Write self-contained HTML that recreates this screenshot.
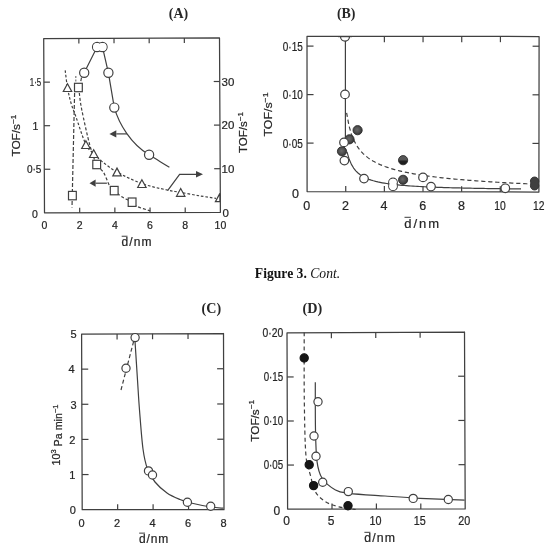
<!DOCTYPE html>
<html><head><meta charset="utf-8"><title>Figure 3 Cont.</title>
<style>
html,body{margin:0;padding:0;background:#fff;}
body{width:550px;height:550px;overflow:hidden;font-family:"Liberation Sans",sans-serif;}
svg{display:block;filter:blur(0.3px);}
</style></head><body>
<svg width="550" height="550" viewBox="0 0 550 550">
<defs>
<radialGradient id="gf" cx="0.45" cy="0.45" r="0.55"><stop offset="0" stop-color="#6a6a6a"/><stop offset="0.6" stop-color="#4e4e4e"/><stop offset="1" stop-color="#333"/></radialGradient>
<linearGradient id="gh" x1="0" y1="0" x2="0" y2="1"><stop offset="0" stop-color="#5a5a5a"/><stop offset="0.45" stop-color="#555"/><stop offset="0.6" stop-color="#222"/><stop offset="1" stop-color="#1a1a1a"/></linearGradient>
</defs>
<rect width="550" height="550" fill="#fff"/>
<text x="178.5" y="17.6" font-family="Liberation Serif" font-size="13.6" font-weight="bold" font-style="normal" text-anchor="middle" fill="#262626" textLength="19.4" lengthAdjust="spacingAndGlyphs">(A)</text>
<text x="346.2" y="17.6" font-family="Liberation Serif" font-size="13.6" font-weight="bold" font-style="normal" text-anchor="middle" fill="#262626" textLength="18.6" lengthAdjust="spacingAndGlyphs">(B)</text>
<text x="211.3" y="312.9" font-family="Liberation Serif" font-size="13.6" font-weight="bold" font-style="normal" text-anchor="middle" fill="#262626" textLength="19.6" lengthAdjust="spacingAndGlyphs">(C)</text>
<text x="312.4" y="312.9" font-family="Liberation Serif" font-size="13.6" font-weight="bold" font-style="normal" text-anchor="middle" fill="#262626" textLength="19.7" lengthAdjust="spacingAndGlyphs">(D)</text>
<text x="254.8" y="278.1" font-family="Liberation Serif" font-size="13.6" fill="#111" textLength="85.4" lengthAdjust="spacingAndGlyphs"><tspan font-weight="bold">Figure 3.</tspan> <tspan font-style="italic">Cont.</tspan></text>
<polygon points="43.7,38.6 219.5,37.9 220.4,212.3 44.5,212.8" fill="none" stroke="#404040" stroke-width="1.25" stroke-linejoin="round"/>
<line x1="79.68" y1="212.7" x2="79.68" y2="207.7" stroke="#404040" stroke-width="1.2"/>
<line x1="78.86" y1="38.46" x2="78.86" y2="43.46" stroke="#404040" stroke-width="1.2"/>
<line x1="114.86" y1="212.6" x2="114.86" y2="207.6" stroke="#404040" stroke-width="1.2"/>
<line x1="114.02" y1="38.32" x2="114.02" y2="43.32" stroke="#404040" stroke-width="1.2"/>
<line x1="150.04" y1="212.5" x2="150.04" y2="207.5" stroke="#404040" stroke-width="1.2"/>
<line x1="149.18" y1="38.18" x2="149.18" y2="43.18" stroke="#404040" stroke-width="1.2"/>
<line x1="185.22" y1="212.4" x2="185.22" y2="207.4" stroke="#404040" stroke-width="1.2"/>
<line x1="184.34" y1="38.04" x2="184.34" y2="43.04" stroke="#404040" stroke-width="1.2"/>
<line x1="44.3" y1="169.25" x2="50.3" y2="169.25" stroke="#404040" stroke-width="1.2"/>
<line x1="44.1" y1="125.7" x2="50.1" y2="125.7" stroke="#404040" stroke-width="1.2"/>
<line x1="43.9" y1="82.15" x2="49.9" y2="82.15" stroke="#404040" stroke-width="1.2"/>
<line x1="220.18" y1="168.7" x2="214.18" y2="168.7" stroke="#404040" stroke-width="1.2"/>
<line x1="219.95" y1="125.1" x2="213.95" y2="125.1" stroke="#404040" stroke-width="1.2"/>
<line x1="219.72" y1="81.5" x2="213.72" y2="81.5" stroke="#404040" stroke-width="1.2"/>
<text x="44.5" y="229" font-family="Liberation Sans" font-size="10.5" font-weight="normal" font-style="normal" text-anchor="middle" fill="#262626" stroke="#262626" stroke-width="0.22">0</text>
<text x="79.68" y="228.9" font-family="Liberation Sans" font-size="10.5" font-weight="normal" font-style="normal" text-anchor="middle" fill="#262626" stroke="#262626" stroke-width="0.22">2</text>
<text x="114.86" y="228.8" font-family="Liberation Sans" font-size="10.5" font-weight="normal" font-style="normal" text-anchor="middle" fill="#262626" stroke="#262626" stroke-width="0.22">4</text>
<text x="150.04" y="228.7" font-family="Liberation Sans" font-size="10.5" font-weight="normal" font-style="normal" text-anchor="middle" fill="#262626" stroke="#262626" stroke-width="0.22">6</text>
<text x="185.22" y="228.6" font-family="Liberation Sans" font-size="10.5" font-weight="normal" font-style="normal" text-anchor="middle" fill="#262626" stroke="#262626" stroke-width="0.22">8</text>
<text x="220.4" y="228.5" font-family="Liberation Sans" font-size="10.5" font-weight="normal" font-style="normal" text-anchor="middle" fill="#262626" stroke="#262626" stroke-width="0.22">10</text>
<text x="35" y="217.7" font-family="Liberation Sans" font-size="10.5" font-weight="normal" font-style="normal" text-anchor="middle" fill="#262626" stroke="#262626" stroke-width="0.22">0</text>
<text x="41.5" y="173.05" font-family="Liberation Sans" font-size="10.5" font-weight="normal" font-style="normal" text-anchor="end" fill="#262626" stroke="#262626" stroke-width="0.22" textLength="14.6" lengthAdjust="spacingAndGlyphs">0·5</text>
<text x="38.3" y="129.5" font-family="Liberation Sans" font-size="10.5" font-weight="normal" font-style="normal" text-anchor="end" fill="#262626" stroke="#262626" stroke-width="0.22">1</text>
<text x="41.3" y="85.95" font-family="Liberation Sans" font-size="10.5" font-weight="normal" font-style="normal" text-anchor="end" fill="#262626" stroke="#262626" stroke-width="0.22" textLength="11.5" lengthAdjust="spacingAndGlyphs">1·5</text>
<text x="225.6" y="216.6" font-family="Liberation Sans" font-size="11.5" font-weight="normal" font-style="normal" text-anchor="middle" fill="#262626" stroke="#262626" stroke-width="0.22">0</text>
<text x="221.6" y="172.8" font-family="Liberation Sans" font-size="11.5" font-weight="normal" font-style="normal" text-anchor="start" fill="#262626" stroke="#262626" stroke-width="0.22" textLength="12.8" lengthAdjust="spacingAndGlyphs">10</text>
<text x="221.6" y="129.2" font-family="Liberation Sans" font-size="11.5" font-weight="normal" font-style="normal" text-anchor="start" fill="#262626" stroke="#262626" stroke-width="0.22" textLength="12.8" lengthAdjust="spacingAndGlyphs">20</text>
<text x="221.6" y="85.6" font-family="Liberation Sans" font-size="11.5" font-weight="normal" font-style="normal" text-anchor="start" fill="#262626" stroke="#262626" stroke-width="0.22" textLength="12.8" lengthAdjust="spacingAndGlyphs">30</text>
<text transform="translate(16.2,135.6) rotate(-90)" x="0" y="0" font-family="Liberation Sans" font-size="11" text-anchor="middle" dominant-baseline="central" fill="#262626" stroke="#262626" stroke-width="0.22" textLength="42" lengthAdjust="spacingAndGlyphs">TOF/s<tspan font-size="70%" dy="-0.45em">−1</tspan></text>
<text transform="translate(243.1,132.6) rotate(-90)" x="0" y="0" font-family="Liberation Sans" font-size="11" text-anchor="middle" dominant-baseline="central" fill="#262626" stroke="#262626" stroke-width="0.22" textLength="41" lengthAdjust="spacingAndGlyphs">TOF/s<tspan font-size="70%" dy="-0.45em">−1</tspan></text>
<text x="121.5" y="245.9" font-family="Liberation Sans" font-size="12" fill="#262626" stroke="#262626" stroke-width="0.22" textLength="30.1" lengthAdjust="spacing">d/nm</text>
<line x1="121.7" y1="236.24" x2="127.5" y2="236.24" stroke="#262626" stroke-width="0.9"/>
<polyline points="84.2,72.8 97.1,47 102.5,47 108.4,72.8 114.3,107.6" fill="none" stroke="#404040" stroke-width="1.2"/>
<path d="M114.3,107.6 C119,124 131,144 149.1,154.8 C157,159.5 163,163.5 169.4,167.3" fill="none" stroke="#404040" stroke-width="1.2"/>
<line x1="81.5" y1="77.5" x2="80.8" y2="81.2" stroke="#404040" stroke-width="1.2"/>
<path d="M65.2,70.4 C65.58,73.28 66.53,82.27 67.5,87.7 C68.47,93.13 69.58,98.12 71,103 C72.42,107.88 73.52,110.07 76,117 C78.48,123.93 82.95,138.5 85.9,144.6 C88.85,150.7 90.98,150.77 93.7,153.6 C96.42,156.43 98.32,158.53 102.2,161.6 C106.08,164.67 110.38,168.33 117,172 C123.62,175.67 133.57,180.6 141.9,183.6 C150.23,186.6 160.53,188.53 167,190 C173.47,191.47 175.2,191.42 180.7,192.4 C186.2,193.38 194.12,194.9 200,195.9 C205.88,196.9 213.33,197.98 216,198.4" fill="none" stroke="#404040" stroke-width="1.2" stroke-dasharray="2.6,1.9"/>
<path d="M79.3,93 C79.72,95.83 80.05,101.33 81.8,110 C83.55,118.67 87.32,135.92 89.8,145 C92.28,154.08 94.4,159.92 96.7,164.5 C99,169.08 101.47,168.98 103.6,172.5 C105.73,176.02 107.73,182.58 109.5,185.6 C111.27,188.62 112.15,188.75 114.2,190.6 C116.25,192.45 118.82,194.77 121.8,196.7 C124.78,198.63 129.55,200.57 132.1,202.2 C134.65,203.83 134.08,205.07 137.1,206.5 C140.12,207.93 148.02,210.08 150.2,210.8" fill="none" stroke="#404040" stroke-width="1.2" stroke-dasharray="3,2"/>
<line x1="74.6" y1="93" x2="72" y2="207.5" stroke="#404040" stroke-width="1.2" stroke-dasharray="4,2"/>
<line x1="75.8" y1="76" x2="75.8" y2="83.5" stroke="#777" stroke-width="1.2" stroke-dasharray="2,1.5"/>
<line x1="116.3" y1="133.9" x2="126.9" y2="133.9" stroke="#404040" stroke-width="1.2"/>
<polygon points="109.4,133.9 116.3,130.3 116.3,137.5" fill="#404040"/>
<line x1="95.6" y1="183.2" x2="106.9" y2="183.2" stroke="#404040" stroke-width="1.2"/>
<polygon points="89.5,183.2 95.6,179.6 95.6,186.8" fill="#404040"/>
<polyline points="167.6,190.6 179.6,174.3 196,174.3" fill="none" stroke="#404040" stroke-width="1.2"/>
<polygon points="203,174.3 196,171 196,177.6" fill="#404040"/>
<circle cx="84.2" cy="72.8" r="4.6" fill="#fff" stroke="#404040" stroke-width="1.2"/>
<circle cx="108.4" cy="72.8" r="4.6" fill="#fff" stroke="#404040" stroke-width="1.2"/>
<circle cx="114.3" cy="107.6" r="4.6" fill="#fff" stroke="#404040" stroke-width="1.2"/>
<circle cx="149.1" cy="154.8" r="4.6" fill="#fff" stroke="#404040" stroke-width="1.2"/>
<circle cx="97.1" cy="47" r="4.6" fill="#fff" stroke="#404040" stroke-width="1.2"/>
<circle cx="102.5" cy="47" r="4.6" fill="#fff" stroke="#404040" stroke-width="1.2"/>
<circle cx="97.1" cy="47" r="4.0" fill="#fff"/><circle cx="102.5" cy="47" r="4.0" fill="#fff"/>
<polygon points="67.5,83.7 71.7,91.5 63.3,91.5" fill="#fff" stroke="#404040" stroke-width="1.2" stroke-linejoin="miter"/>
<polygon points="85.9,140.7 90.1,148.5 81.7,148.5" fill="#fff" stroke="#404040" stroke-width="1.2" stroke-linejoin="miter"/>
<polygon points="93.7,149.7 97.9,157.5 89.5,157.5" fill="#fff" stroke="#404040" stroke-width="1.2" stroke-linejoin="miter"/>
<polygon points="117,168.1 121.2,175.9 112.8,175.9" fill="#fff" stroke="#404040" stroke-width="1.2" stroke-linejoin="miter"/>
<polygon points="141.9,179.7 146.1,187.5 137.7,187.5" fill="#fff" stroke="#404040" stroke-width="1.2" stroke-linejoin="miter"/>
<polygon points="180.7,188.5 184.9,196.3 176.5,196.3" fill="#fff" stroke="#404040" stroke-width="1.2" stroke-linejoin="miter"/>
<polygon points="219.9,193.4 215.4,201.7 219.9,201.7" fill="#fff" stroke="#404040" stroke-width="1.2"/>
<rect x="74.5" y="83.3" width="7.8" height="8.4" fill="#fff" stroke="#404040" stroke-width="1.2"/>
<rect x="92.8" y="160.3" width="7.8" height="8.4" fill="#fff" stroke="#404040" stroke-width="1.2"/>
<rect x="110.3" y="186.4" width="7.8" height="8.4" fill="#fff" stroke="#404040" stroke-width="1.2"/>
<rect x="128.2" y="198" width="7.8" height="8.4" fill="#fff" stroke="#404040" stroke-width="1.2"/>
<rect x="68.5" y="191.4" width="7.8" height="8.4" fill="#fff" stroke="#404040" stroke-width="1.2"/>
<polygon points="307,36.4 539.1,36.5 538.9,192 307.1,191.6" fill="none" stroke="#404040" stroke-width="1.25" stroke-linejoin="round"/>
<line x1="345.73" y1="191.67" x2="345.73" y2="185.97" stroke="#404040" stroke-width="1.2"/>
<line x1="345.68" y1="36.42" x2="345.68" y2="42.12" stroke="#404040" stroke-width="1.2"/>
<line x1="384.37" y1="191.73" x2="384.37" y2="186.03" stroke="#404040" stroke-width="1.2"/>
<line x1="384.37" y1="36.43" x2="384.37" y2="42.13" stroke="#404040" stroke-width="1.2"/>
<line x1="423" y1="191.8" x2="423" y2="186.1" stroke="#404040" stroke-width="1.2"/>
<line x1="423.05" y1="36.45" x2="423.05" y2="42.15" stroke="#404040" stroke-width="1.2"/>
<line x1="461.63" y1="191.87" x2="461.63" y2="186.17" stroke="#404040" stroke-width="1.2"/>
<line x1="461.73" y1="36.47" x2="461.73" y2="42.17" stroke="#404040" stroke-width="1.2"/>
<line x1="500.27" y1="191.93" x2="500.27" y2="186.23" stroke="#404040" stroke-width="1.2"/>
<line x1="500.42" y1="36.48" x2="500.42" y2="42.18" stroke="#404040" stroke-width="1.2"/>
<line x1="307.07" y1="143.1" x2="313.57" y2="143.1" stroke="#404040" stroke-width="1.2"/>
<line x1="538.96" y1="143.41" x2="532.46" y2="143.41" stroke="#404040" stroke-width="1.2"/>
<line x1="307.04" y1="94.6" x2="313.54" y2="94.6" stroke="#404040" stroke-width="1.2"/>
<line x1="539.02" y1="94.81" x2="532.52" y2="94.81" stroke="#404040" stroke-width="1.2"/>
<line x1="307.01" y1="46.1" x2="313.51" y2="46.1" stroke="#404040" stroke-width="1.2"/>
<line x1="539.09" y1="46.22" x2="532.59" y2="46.22" stroke="#404040" stroke-width="1.2"/>
<text x="306.75" y="209.8" font-family="Liberation Sans" font-size="12.5" font-weight="normal" font-style="normal" text-anchor="middle" fill="#262626" stroke="#262626" stroke-width="0.22">0</text>
<text x="345.41" y="209.8" font-family="Liberation Sans" font-size="12.5" font-weight="normal" font-style="normal" text-anchor="middle" fill="#262626" stroke="#262626" stroke-width="0.22">2</text>
<text x="384.07" y="209.8" font-family="Liberation Sans" font-size="12.5" font-weight="normal" font-style="normal" text-anchor="middle" fill="#262626" stroke="#262626" stroke-width="0.22">4</text>
<text x="422.72" y="209.8" font-family="Liberation Sans" font-size="12.5" font-weight="normal" font-style="normal" text-anchor="middle" fill="#262626" stroke="#262626" stroke-width="0.22">6</text>
<text x="461.38" y="209.8" font-family="Liberation Sans" font-size="12.5" font-weight="normal" font-style="normal" text-anchor="middle" fill="#262626" stroke="#262626" stroke-width="0.22">8</text>
<text x="500.04" y="209.8" font-family="Liberation Sans" font-size="12.5" font-weight="normal" font-style="normal" text-anchor="middle" fill="#262626" stroke="#262626" stroke-width="0.22" textLength="11.5" lengthAdjust="spacingAndGlyphs">10</text>
<text x="538.7" y="209.8" font-family="Liberation Sans" font-size="12.5" font-weight="normal" font-style="normal" text-anchor="middle" fill="#262626" stroke="#262626" stroke-width="0.22" textLength="11.5" lengthAdjust="spacingAndGlyphs">12</text>
<text x="295.4" y="197.6" font-family="Liberation Sans" font-size="12.5" font-weight="normal" font-style="normal" text-anchor="middle" fill="#262626" stroke="#262626" stroke-width="0.22">0</text>
<text x="302.8" y="147.65" font-family="Liberation Sans" font-size="12.5" font-weight="normal" font-style="normal" text-anchor="end" fill="#262626" stroke="#262626" stroke-width="0.22" textLength="20" lengthAdjust="spacingAndGlyphs">0·05</text>
<text x="302.8" y="99.11" font-family="Liberation Sans" font-size="12.5" font-weight="normal" font-style="normal" text-anchor="end" fill="#262626" stroke="#262626" stroke-width="0.22" textLength="20" lengthAdjust="spacingAndGlyphs">0·10</text>
<text x="302.8" y="50.56" font-family="Liberation Sans" font-size="12.5" font-weight="normal" font-style="normal" text-anchor="end" fill="#262626" stroke="#262626" stroke-width="0.22" textLength="20" lengthAdjust="spacingAndGlyphs">0·15</text>
<text transform="translate(268.3,114.5) rotate(-90)" x="0" y="0" font-family="Liberation Sans" font-size="11.5" text-anchor="middle" dominant-baseline="central" fill="#262626" stroke="#262626" stroke-width="0.22" textLength="44" lengthAdjust="spacingAndGlyphs">TOF/s<tspan font-size="70%" dy="-0.45em">−1</tspan></text>
<text x="404.3" y="227.7" font-family="Liberation Sans" font-size="13" fill="#262626" stroke="#262626" stroke-width="0.22" textLength="34.8" lengthAdjust="spacing">d/nm</text>
<line x1="404.5" y1="217.31" x2="410.8" y2="217.31" stroke="#262626" stroke-width="0.9"/>
<line x1="345.4" y1="36.6" x2="345.4" y2="137.5" stroke="#404040" stroke-width="1.2"/>
<polyline points="347,151.91 349.2,159.32 351.41,164.38 353.61,168.04 355.81,170.83 358.01,173.01 360.22,174.77 362.42,176.21 364.62,177.42 366.82,178.45 369.03,179.33 371.23,180.1 373.43,180.77 375.63,181.36 377.84,181.89 380.04,182.36 382.24,182.79 384.44,183.17 386.65,183.53 388.85,183.85 391.05,184.14 393.25,184.41 395.46,184.66 397.66,184.89 399.86,185.11 402.06,185.31 404.27,185.5 406.47,185.67 408.67,185.84 410.87,185.99 413.08,186.14 415.28,186.27 417.48,186.4 419.68,186.52 421.89,186.64 424.09,186.75 426.29,186.85 428.49,186.95 430.7,187.05 432.9,187.14 435.1,187.22 437.3,187.31 439.51,187.39 441.71,187.46 443.91,187.53 446.11,187.6 448.32,187.67 450.52,187.73 452.72,187.79 454.92,187.85 457.13,187.91 459.33,187.97 461.53,188.02 463.73,188.07 465.94,188.12 468.14,188.17 470.34,188.21 472.54,188.26 474.75,188.3 476.95,188.34 479.15,188.38 481.35,188.42 483.56,188.46 485.76,188.5 487.96,188.53 490.16,188.57 492.37,188.6 494.57,188.63 496.77,188.66 498.97,188.7 501.18,188.73 503.38,188.75 505.58,188.78 507.78,188.81 509.99,188.84 512.19,188.86 514.39,188.89 516.59,188.91 518.8,188.94 521,188.96" fill="none" stroke="#404040" stroke-width="1.2" stroke-linejoin="round"/>
<polyline points="346.6,112.83 349,125.77 351.39,134.13 353.79,140.12 356.19,144.69 358.59,148.33 360.98,151.32 363.38,153.84 365.78,155.99 368.18,157.87 370.57,159.53 372.97,161 375.37,162.32 377.77,163.51 380.16,164.6 382.56,165.6 384.96,166.52 387.36,167.36 389.75,168.15 392.15,168.88 394.55,169.57 396.95,170.21 399.34,170.82 401.74,171.39 404.14,171.92 406.54,172.43 408.93,172.92 411.33,173.38 413.73,173.81 416.13,174.23 418.52,174.63 420.92,175.01 423.32,175.38 425.72,175.73 428.11,176.06 430.51,176.38 432.91,176.69 435.31,176.99 437.7,177.28 440.1,177.56 442.5,177.83 444.9,178.09 447.29,178.34 449.69,178.58 452.09,178.82 454.49,179.05 456.88,179.27 459.28,179.49 461.68,179.69 464.08,179.9 466.47,180.1 468.87,180.29 471.27,180.47 473.67,180.66 476.06,180.83 478.46,181.01 480.86,181.18 483.26,181.34 485.65,181.5 488.05,181.66 490.45,181.81 492.85,181.96 495.24,182.11 497.64,182.25 500.04,182.39 502.44,182.53 504.83,182.66 507.23,182.79 509.63,182.92 512.03,183.05 514.42,183.17 516.82,183.29 519.22,183.41 521.62,183.53 524.01,183.64 526.41,183.75 528.81,183.86 531.21,183.97 533.6,184.08 536,184.18" fill="none" stroke="#404040" stroke-width="1.2" stroke-linejoin="round" stroke-dasharray="4.2,2.8"/>
<circle cx="357.6" cy="130.2" r="4.6" fill="url(#gf)" stroke="#2e2e2e" stroke-width="0.9"/>
<circle cx="349.5" cy="139.3" r="4.6" fill="url(#gf)" stroke="#2e2e2e" stroke-width="0.9"/>
<circle cx="342" cy="151.3" r="4.6" fill="url(#gf)" stroke="#2e2e2e" stroke-width="0.9"/>
<circle cx="403.1" cy="179.8" r="4.6" fill="url(#gf)" stroke="#2e2e2e" stroke-width="0.9"/>
<circle cx="534.6" cy="181.2" r="4.2" fill="#404040" stroke="#2e2e2e" stroke-width="0.9"/>
<circle cx="534.6" cy="185.8" r="4.2" fill="#404040" stroke="#2e2e2e" stroke-width="0.9"/>
<circle cx="534.6" cy="181.2" r="3.75" fill="#404040"/>
<circle cx="534.6" cy="185.8" r="3.75" fill="#404040"/>
<circle cx="403.1" cy="160.2" r="4.6" fill="url(#gh)" stroke="#2a2a2a" stroke-width="0.9"/>
<path d="M340.5,36.6 A4.5,4.5 0 0 0 349.5,36.6" fill="#fff" stroke="#404040" stroke-width="1.2"/>
<line x1="338" y1="36.6" x2="352" y2="36.6" stroke="#404040" stroke-width="1.2"/>
<circle cx="345" cy="94.4" r="4.3" fill="#fff" stroke="#404040" stroke-width="1.2"/>
<circle cx="344" cy="142.4" r="4.3" fill="#fff" stroke="#404040" stroke-width="1.2"/>
<circle cx="344.4" cy="160.6" r="4.3" fill="#fff" stroke="#404040" stroke-width="1.2"/>
<circle cx="364" cy="178.6" r="4.3" fill="#fff" stroke="#404040" stroke-width="1.2"/>
<circle cx="423" cy="177.4" r="4.3" fill="#fff" stroke="#404040" stroke-width="1.2"/>
<circle cx="431" cy="186.6" r="4.3" fill="#fff" stroke="#404040" stroke-width="1.2"/>
<circle cx="505.3" cy="188.3" r="4.3" fill="#fff" stroke="#404040" stroke-width="1.2"/>
<circle cx="393" cy="182.4" r="4.3" fill="#fff" stroke="#404040" stroke-width="1.2"/>
<circle cx="393" cy="186.2" r="4.3" fill="#fff" stroke="#404040" stroke-width="1.2"/>
<circle cx="393" cy="182.4" r="3.7" fill="#fff"/>
<circle cx="393" cy="186.2" r="3.7" fill="#fff"/>
<polygon points="81.6,334 223.5,333.5 224,509.7 82.2,509.7" fill="none" stroke="#404040" stroke-width="1.25" stroke-linejoin="round"/>
<line x1="117.65" y1="509.7" x2="117.65" y2="504.2" stroke="#404040" stroke-width="1.2"/>
<line x1="117.07" y1="333.88" x2="117.07" y2="339.38" stroke="#404040" stroke-width="1.2"/>
<line x1="153.1" y1="509.7" x2="153.1" y2="504.2" stroke="#404040" stroke-width="1.2"/>
<line x1="152.55" y1="333.75" x2="152.55" y2="339.25" stroke="#404040" stroke-width="1.2"/>
<line x1="188.55" y1="509.7" x2="188.55" y2="504.2" stroke="#404040" stroke-width="1.2"/>
<line x1="188.03" y1="333.62" x2="188.03" y2="339.12" stroke="#404040" stroke-width="1.2"/>
<line x1="82.08" y1="474.56" x2="88.58" y2="474.56" stroke="#404040" stroke-width="1.2"/>
<line x1="223.9" y1="474.46" x2="217.4" y2="474.46" stroke="#404040" stroke-width="1.2"/>
<line x1="81.96" y1="439.42" x2="88.46" y2="439.42" stroke="#404040" stroke-width="1.2"/>
<line x1="223.8" y1="439.22" x2="217.3" y2="439.22" stroke="#404040" stroke-width="1.2"/>
<line x1="81.84" y1="404.28" x2="88.34" y2="404.28" stroke="#404040" stroke-width="1.2"/>
<line x1="223.7" y1="403.98" x2="217.2" y2="403.98" stroke="#404040" stroke-width="1.2"/>
<line x1="81.72" y1="369.14" x2="88.22" y2="369.14" stroke="#404040" stroke-width="1.2"/>
<line x1="223.6" y1="368.74" x2="217.1" y2="368.74" stroke="#404040" stroke-width="1.2"/>
<text x="81.6" y="526.6" font-family="Liberation Sans" font-size="11" font-weight="normal" font-style="normal" text-anchor="middle" fill="#262626" stroke="#262626" stroke-width="0.22">0</text>
<text x="117.08" y="526.6" font-family="Liberation Sans" font-size="11" font-weight="normal" font-style="normal" text-anchor="middle" fill="#262626" stroke="#262626" stroke-width="0.22">2</text>
<text x="152.55" y="526.6" font-family="Liberation Sans" font-size="11" font-weight="normal" font-style="normal" text-anchor="middle" fill="#262626" stroke="#262626" stroke-width="0.22">4</text>
<text x="188.03" y="526.6" font-family="Liberation Sans" font-size="11" font-weight="normal" font-style="normal" text-anchor="middle" fill="#262626" stroke="#262626" stroke-width="0.22">6</text>
<text x="223.5" y="526.6" font-family="Liberation Sans" font-size="11" font-weight="normal" font-style="normal" text-anchor="middle" fill="#262626" stroke="#262626" stroke-width="0.22">8</text>
<text x="72.8" y="514.1" font-family="Liberation Sans" font-size="11" font-weight="normal" font-style="normal" text-anchor="middle" fill="#262626" stroke="#262626" stroke-width="0.22">0</text>
<text x="72.2" y="478.92" font-family="Liberation Sans" font-size="11" font-weight="normal" font-style="normal" text-anchor="middle" fill="#262626" stroke="#262626" stroke-width="0.22">1</text>
<text x="72.2" y="443.74" font-family="Liberation Sans" font-size="11" font-weight="normal" font-style="normal" text-anchor="middle" fill="#262626" stroke="#262626" stroke-width="0.22">2</text>
<text x="73.6" y="408.56" font-family="Liberation Sans" font-size="11" font-weight="normal" font-style="normal" text-anchor="middle" fill="#262626" stroke="#262626" stroke-width="0.22">3</text>
<text x="71.6" y="373.38" font-family="Liberation Sans" font-size="11" font-weight="normal" font-style="normal" text-anchor="middle" fill="#262626" stroke="#262626" stroke-width="0.22">4</text>
<text x="73.6" y="338.2" font-family="Liberation Sans" font-size="11" font-weight="normal" font-style="normal" text-anchor="middle" fill="#262626" stroke="#262626" stroke-width="0.22">5</text>
<text transform="translate(56.4,435) rotate(-90)" font-family="Liberation Sans" font-size="10.5" text-anchor="middle" dominant-baseline="central" fill="#262626" stroke="#262626" stroke-width="0.22" textLength="61" lengthAdjust="spacingAndGlyphs">10<tspan font-size="70%" dy="-0.45em">3</tspan><tspan dy="0.45em"> Pa min</tspan><tspan font-size="70%" dy="-0.45em">−1</tspan></text>
<text x="139" y="542.8" font-family="Liberation Sans" font-size="12" fill="#262626" stroke="#262626" stroke-width="0.22" textLength="29.3" lengthAdjust="spacing">d/nm</text>
<line x1="139.2" y1="533.14" x2="145" y2="533.14" stroke="#262626" stroke-width="0.9"/>
<line x1="121" y1="390" x2="134.5" y2="338" stroke="#404040" stroke-width="1.2" stroke-dasharray="4,2.6"/>
<path d="M135,341 C135.42,347.5 136.75,368.5 137.5,380 C138.25,391.5 138.58,398.5 139.5,410 C140.42,421.5 141.67,439.17 143,449 C144.33,458.83 145.5,463.5 147.5,469 C149.5,474.5 151.75,478 155,482 C158.25,486 162.83,490.08 167,493 C171.17,495.92 176,497.83 180,499.5 C184,501.17 185.83,501.75 191,503 C196.17,504.25 205.58,506.13 211,507 C216.42,507.87 221.42,508 223.5,508.2" fill="none" stroke="#404040" stroke-width="1.2"/>
<circle cx="135.1" cy="337.6" r="4.1" fill="#fff" stroke="#404040" stroke-width="1.2"/>
<circle cx="126" cy="368.2" r="4.1" fill="#fff" stroke="#404040" stroke-width="1.2"/>
<circle cx="148.5" cy="470.9" r="4.1" fill="#fff" stroke="#404040" stroke-width="1.2"/>
<circle cx="152.5" cy="475" r="4.1" fill="#fff" stroke="#404040" stroke-width="1.2"/>
<circle cx="187.4" cy="502.3" r="4.1" fill="#fff" stroke="#404040" stroke-width="1.2"/>
<circle cx="210.7" cy="506.2" r="4.1" fill="#fff" stroke="#404040" stroke-width="1.2"/>
<polygon points="287,332.9 464.5,332 465.2,508.9 287.6,509.1" fill="none" stroke="#404040" stroke-width="1.25" stroke-linejoin="round"/>
<line x1="332" y1="509.05" x2="332" y2="503.55" stroke="#404040" stroke-width="1.2"/>
<line x1="331.38" y1="332.67" x2="331.38" y2="338.17" stroke="#404040" stroke-width="1.2"/>
<line x1="376.4" y1="509" x2="376.4" y2="503.5" stroke="#404040" stroke-width="1.2"/>
<line x1="375.75" y1="332.45" x2="375.75" y2="337.95" stroke="#404040" stroke-width="1.2"/>
<line x1="420.8" y1="508.95" x2="420.8" y2="503.45" stroke="#404040" stroke-width="1.2"/>
<line x1="420.12" y1="332.23" x2="420.12" y2="337.73" stroke="#404040" stroke-width="1.2"/>
<line x1="287.45" y1="465.05" x2="293.95" y2="465.05" stroke="#404040" stroke-width="1.2"/>
<line x1="465.02" y1="464.67" x2="458.52" y2="464.67" stroke="#404040" stroke-width="1.2"/>
<line x1="287.3" y1="421" x2="293.8" y2="421" stroke="#404040" stroke-width="1.2"/>
<line x1="464.85" y1="420.45" x2="458.35" y2="420.45" stroke="#404040" stroke-width="1.2"/>
<line x1="287.15" y1="376.95" x2="293.65" y2="376.95" stroke="#404040" stroke-width="1.2"/>
<line x1="464.68" y1="376.23" x2="458.18" y2="376.23" stroke="#404040" stroke-width="1.2"/>
<text x="286.7" y="525.4" font-family="Liberation Sans" font-size="12" font-weight="normal" font-style="normal" text-anchor="middle" fill="#262626" stroke="#262626" stroke-width="0.22">0</text>
<text x="331.07" y="525.4" font-family="Liberation Sans" font-size="12" font-weight="normal" font-style="normal" text-anchor="middle" fill="#262626" stroke="#262626" stroke-width="0.22">5</text>
<text x="375.45" y="525.4" font-family="Liberation Sans" font-size="12" font-weight="normal" font-style="normal" text-anchor="middle" fill="#262626" stroke="#262626" stroke-width="0.22" textLength="12" lengthAdjust="spacingAndGlyphs">10</text>
<text x="419.82" y="525.4" font-family="Liberation Sans" font-size="12" font-weight="normal" font-style="normal" text-anchor="middle" fill="#262626" stroke="#262626" stroke-width="0.22" textLength="12" lengthAdjust="spacingAndGlyphs">15</text>
<text x="464.2" y="525.4" font-family="Liberation Sans" font-size="12" font-weight="normal" font-style="normal" text-anchor="middle" fill="#262626" stroke="#262626" stroke-width="0.22" textLength="12" lengthAdjust="spacingAndGlyphs">20</text>
<text x="276.8" y="515.2" font-family="Liberation Sans" font-size="12" font-weight="normal" font-style="normal" text-anchor="middle" fill="#262626" stroke="#262626" stroke-width="0.22">0</text>
<text x="283.2" y="469.07" font-family="Liberation Sans" font-size="12" font-weight="normal" font-style="normal" text-anchor="end" fill="#262626" stroke="#262626" stroke-width="0.22" textLength="19.5" lengthAdjust="spacingAndGlyphs">0·05</text>
<text x="283.2" y="424.95" font-family="Liberation Sans" font-size="12" font-weight="normal" font-style="normal" text-anchor="end" fill="#262626" stroke="#262626" stroke-width="0.22" textLength="19.5" lengthAdjust="spacingAndGlyphs">0·10</text>
<text x="283.2" y="380.82" font-family="Liberation Sans" font-size="12" font-weight="normal" font-style="normal" text-anchor="end" fill="#262626" stroke="#262626" stroke-width="0.22" textLength="19.5" lengthAdjust="spacingAndGlyphs">0·15</text>
<text x="283.2" y="336.7" font-family="Liberation Sans" font-size="12" font-weight="normal" font-style="normal" text-anchor="end" fill="#262626" stroke="#262626" stroke-width="0.22" textLength="20.7" lengthAdjust="spacingAndGlyphs">0·20</text>
<text transform="translate(254.8,420.8) rotate(-90)" x="0" y="0" font-family="Liberation Sans" font-size="10.8" text-anchor="middle" dominant-baseline="central" fill="#262626" stroke="#262626" stroke-width="0.22" textLength="41.7" lengthAdjust="spacingAndGlyphs">TOF/s<tspan font-size="70%" dy="-0.45em">−1</tspan></text>
<text x="364.2" y="542.2" font-family="Liberation Sans" font-size="12.3" fill="#262626" stroke="#262626" stroke-width="0.22" textLength="30.9" lengthAdjust="spacing">d/nm</text>
<line x1="364.4" y1="532.32" x2="370.35" y2="532.32" stroke="#262626" stroke-width="0.9"/>
<path d="M304.2,332.5 C304.22,343.75 304.02,379.58 304.3,400 C304.58,420.42 304.9,442.53 305.9,455 C306.9,467.47 308.73,468.7 310.3,474.8 C311.87,480.9 312.78,487.12 315.3,491.6 C317.82,496.08 321.47,499.17 325.4,501.7 C329.33,504.23 333.85,505.5 338.9,506.8 C343.95,508.1 352.9,509.05 355.7,509.5" fill="none" stroke="#404040" stroke-width="1.2" stroke-dasharray="4,3"/>
<path d="M315.3,382.2 C315.33,390.17 315.22,416.82 315.5,430 C315.78,443.18 315.92,453.3 317,461.3 C318.08,469.3 318.92,473.22 322,478 C325.08,482.78 331,487.45 335.5,490 C340,492.55 340.75,492.3 349,493.3 C357.25,494.3 373.17,495.17 385,496 C396.83,496.83 406.73,497.6 420,498.3 C433.27,499 457.17,499.88 464.6,500.2" fill="none" stroke="#404040" stroke-width="1.2"/>
<circle cx="304.2" cy="358" r="4.1" fill="#161616" stroke="#161616" stroke-width="1.2"/>
<circle cx="309.2" cy="464.7" r="4.1" fill="#161616" stroke="#161616" stroke-width="1.2"/>
<circle cx="313.6" cy="485.6" r="4.1" fill="#161616" stroke="#161616" stroke-width="1.2"/>
<circle cx="348" cy="505.8" r="4.1" fill="#161616" stroke="#161616" stroke-width="1.2"/>
<circle cx="318" cy="401.7" r="4.1" fill="#fff" stroke="#404040" stroke-width="1.2"/>
<circle cx="314" cy="436" r="4.1" fill="#fff" stroke="#404040" stroke-width="1.2"/>
<circle cx="316" cy="456.3" r="4.1" fill="#fff" stroke="#404040" stroke-width="1.2"/>
<circle cx="322.7" cy="482.2" r="4.1" fill="#fff" stroke="#404040" stroke-width="1.2"/>
<circle cx="348.3" cy="491.6" r="4.1" fill="#fff" stroke="#404040" stroke-width="1.2"/>
<circle cx="413.2" cy="498.4" r="4.1" fill="#fff" stroke="#404040" stroke-width="1.2"/>
<circle cx="448.3" cy="499.5" r="4.1" fill="#fff" stroke="#404040" stroke-width="1.2"/>
</svg>
</body></html>
